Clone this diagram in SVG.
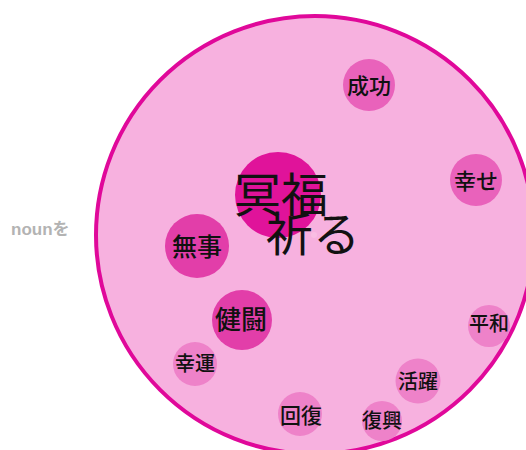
<svg xmlns="http://www.w3.org/2000/svg" width="526" height="450" viewBox="0 0 526 450">
<style>
.t{font-family:"Noto Sans CJK JP","Noto Sans",sans-serif;font-weight:500;fill:#111;text-anchor:middle;dominant-baseline:central}
.n1{fill:#e0139a}
.n2{fill:#e23ea9}
.n3{fill:#e962bb}
.n4{fill:#ee82c9}
</style>
<rect width="526" height="450" fill="#ffffff"/>
<text x="11" y="235" style="font-family:'Liberation Sans','Noto Sans CJK JP',sans-serif;font-weight:bold;font-size:17px;fill:#b3b3b3">nounを</text>
<g id="container">
<circle cx="315" cy="235" r="219" fill="#f7b1df" stroke="#e0089a" stroke-width="4"/>
</g>
<g id="connectors"></g>
<g id="n-center">
<circle class="n1" cx="278" cy="195" r="43"/>
<circle cx="314" cy="235" r="3" fill="#f9bde3"/>
<text class="t" x="281" y="191" font-size="47" style="font-weight:400">冥福</text>
<text class="t" x="313" y="230" font-size="47" style="font-weight:400">祈る</text>
</g>
<g id="n-seikou"><circle class="n3" cx="369" cy="85" r="26"/><text class="t" x="369" y="84" font-size="22">成功</text></g>
<g id="n-shiawase"><circle class="n3" cx="476" cy="180" r="26"/><text class="t" x="476" y="179" font-size="22">幸せ</text></g>
<g id="n-buji"><circle class="n2" cx="197" cy="246" r="32"/><text class="t" x="197" y="245" font-size="25">無事</text></g>
<g id="n-kentou"><circle class="n2" cx="242" cy="320" r="30"/><text class="t" x="241" y="317" font-size="26">健闘</text></g>
<g id="n-kouun"><circle class="n4" cx="195" cy="364" r="22"/><text class="t" x="195" y="362" font-size="20">幸運</text></g>
<g id="n-heiwa"><circle class="n4" cx="489" cy="326" r="21"/><text class="t" x="489" y="322" font-size="20">平和</text></g>
<g id="n-katsuyaku"><circle class="n4" cx="418" cy="381" r="22.5"/><text class="t" x="418" y="380" font-size="20">活躍</text></g>
<g id="n-kaifuku"><circle class="n4" cx="300" cy="414" r="22"/><text class="t" x="301" y="414" font-size="21">回復</text></g>
<g id="n-fukkou"><circle class="n4" cx="382" cy="421" r="20"/><text class="t" x="382" y="419" font-size="20">復興</text></g>
</svg>
